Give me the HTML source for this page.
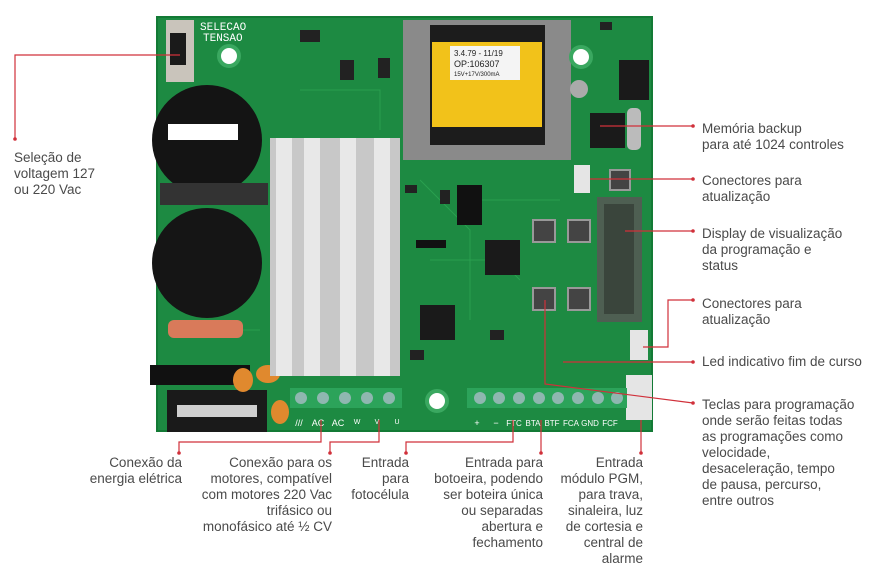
<!DOCTYPE html>
<html><head><meta charset="utf-8"><style>
html,body{margin:0;padding:0;background:#fff;}
body{width:874px;height:579px;position:relative;overflow:hidden;font-family:"Liberation Sans",sans-serif;color:#4a4a4a;}
.t{position:absolute;font-size:13.5px;line-height:16px;white-space:nowrap;}
.r{text-align:right;}
</style></head><body>
<svg width="874" height="579" style="position:absolute;left:0;top:0">
<rect x="157" y="17" width="495" height="414" fill="#1d8a42"/>
<rect x="157" y="17" width="495" height="414" fill="none" stroke="#137a35" stroke-width="2"/>
<g stroke="#2fa855" stroke-width="1" fill="none" opacity=".7">
<path d="M420 180 L470 230 L470 320 M300 90 L380 90 L380 130 M190 330 L260 330 M480 200 L560 200 M430 260 L500 260 L520 280"/>
</g>
<g fill="#222"><rect x="300" y="30" width="20" height="12"/><rect x="340" y="60" width="14" height="20"/><rect x="378" y="58" width="12" height="20"/><rect x="405" y="185" width="12" height="8"/><rect x="440" y="190" width="10" height="14"/><rect x="600" y="22" width="12" height="8"/><rect x="410" y="350" width="14" height="10"/><rect x="490" y="330" width="14" height="10"/></g>
<rect x="166" y="20" width="28" height="62" fill="#c9c4bb"/>
<rect x="170" y="33" width="16" height="32" fill="#1a1a1a"/>
<text x="200" y="30" font-size="11" fill="#fff" font-family="Liberation Mono">SELECAO</text>
<text x="203" y="41" font-size="11" fill="#fff" font-family="Liberation Mono">TENSAO</text>
<circle cx="229" cy="56" r="10" fill="#fff" stroke="#3aa860" stroke-width="4"/>
<circle cx="207" cy="140" r="55" fill="#141414"/>
<rect x="168" y="124" width="70" height="16" fill="#fff"/>
<circle cx="207" cy="263" r="55" fill="#151515"/>
<rect x="160" y="183" width="108" height="22" fill="#333"/>
<rect x="168" y="320" width="75" height="18" rx="6" fill="#d97a5a"/>
<rect x="150" y="365" width="100" height="20" fill="#111"/>
<rect x="167" y="390" width="100" height="42" fill="#1a1a1a"/>
<rect x="177" y="405" width="80" height="12" fill="#cfcfcf"/>
<ellipse cx="243" cy="380" rx="10" ry="12" fill="#e0892e"/>
<ellipse cx="268" cy="374" rx="12" ry="9" fill="#e0892e"/>
<ellipse cx="280" cy="412" rx="9" ry="12" fill="#e0892e"/>
<rect x="270" y="138" width="130" height="238" fill="#c8c8c8"/>
<g fill="#e8e8e8"><rect x="276" y="138" width="16" height="238"/><rect x="304" y="138" width="16" height="238"/><rect x="340" y="138" width="16" height="238"/><rect x="374" y="138" width="16" height="238"/></g>
<rect x="403" y="20" width="168" height="140" fill="#8a8a8a"/>
<rect x="430" y="25" width="115" height="120" fill="#1c1c1c"/>
<rect x="432" y="42" width="110" height="85" fill="#f2c21a"/>
<rect x="450" y="46" width="70" height="34" fill="#f4f4f4"/>
<text x="454" y="56" font-size="8" fill="#222">3.4.79 - 11/19</text>
<text x="454" y="67" font-size="9" fill="#222">OP:106307</text>
<text x="454" y="76" font-size="6" fill="#222">15V+17V/300mA</text>
<circle cx="581" cy="57" r="10" fill="#fff" stroke="#3aa860" stroke-width="4"/>
<circle cx="579" cy="89" r="9" fill="#aaa"/>
<rect x="590" y="113" width="35" height="35" fill="#1a1a1a"/>
<rect x="627" y="108" width="14" height="42" rx="5" fill="#bbb"/>
<rect x="619" y="60" width="30" height="40" fill="#1a1a1a"/>
<rect x="485" y="240" width="35" height="35" fill="#1a1a1a"/>
<rect x="420" y="305" width="35" height="35" fill="#1a1a1a"/>
<rect x="457" y="185" width="25" height="40" fill="#111"/>
<g fill="#444" stroke="#999" stroke-width="2"><rect x="533" y="220" width="22" height="22"/><rect x="568" y="220" width="22" height="22"/><rect x="533" y="288" width="22" height="22"/><rect x="568" y="288" width="22" height="22"/><rect x="610" y="170" width="20" height="20"/></g>
<rect x="597" y="197" width="45" height="125" fill="#4e5f52"/>
<rect x="604" y="204" width="30" height="110" fill="#3a453c"/>
<rect x="574" y="165" width="16" height="28" fill="#e5e5e5"/>
<rect x="630" y="330" width="18" height="30" fill="#e5e5e5"/>
<rect x="626" y="375" width="26" height="45" fill="#e5e5e5"/>
<rect x="416" y="240" width="30" height="8" fill="#111"/>
<circle cx="437" cy="401" r="10" fill="#fff" stroke="#3aa860" stroke-width="4"/>
<rect x="290" y="388" width="112" height="20" fill="#2ca35a"/>
<g fill="#8fb7b0"><circle cx="301" cy="398" r="6"/><circle cx="323" cy="398" r="6"/><circle cx="345" cy="398" r="6"/><circle cx="367" cy="398" r="6"/><circle cx="389" cy="398" r="6"/></g>
<rect x="467" y="388" width="160" height="20" fill="#2ca35a"/>
<g fill="#8fb7b0"><circle cx="480" cy="398" r="6"/><circle cx="499" cy="398" r="6"/><circle cx="519" cy="398" r="6"/><circle cx="539" cy="398" r="6"/><circle cx="558" cy="398" r="6"/><circle cx="578" cy="398" r="6"/><circle cx="598" cy="398" r="6"/><circle cx="617" cy="398" r="6"/></g>
<g font-size="9" fill="#fff" font-family="Liberation Sans" text-anchor="middle">
<text x="299" y="426">///</text><text x="318" y="426">AC</text><text x="338" y="426">AC</text><text x="357" y="424" font-size="7">W</text><text x="377" y="424" font-size="7">V</text><text x="397" y="424" font-size="7">U</text>
<text x="477" y="426">+</text><text x="496" y="426">−</text><text x="514" y="426" font-size="8">FTC</text><text x="533" y="426" font-size="8">BTA</text><text x="552" y="426" font-size="8">BTF</text><text x="571" y="426" font-size="8">FCA</text><text x="590" y="426" font-size="8">GND</text><text x="610" y="426" font-size="8">FCF</text>
</g>
<g stroke="#d0303a" stroke-width="1.2" fill="none">
<polyline points="180,55 15,55 15,139"/>
<polyline points="600,126 693,126"/>
<polyline points="590,179 693,179"/>
<polyline points="625,231 693,231"/>
<polyline points="643,347 668,347 668,300 693,300"/>
<polyline points="563,362 693,362"/>
<polyline points="545,300 545,384 693,403"/>
<polyline points="321,420 321,442 179,442 179,453"/>
<polyline points="379,420 379,442 330,442 330,453"/>
<polyline points="513,420 513,442 406,442 406,453"/>
<polyline points="541,420 541,453"/>
<polyline points="641,420 641,453"/>
</g>
<g fill="#d0303a">
<circle cx="15" cy="139" r="1.8"/><circle cx="693" cy="126" r="1.8"/><circle cx="693" cy="179" r="1.8"/><circle cx="693" cy="231" r="1.8"/><circle cx="693" cy="300" r="1.8"/><circle cx="693" cy="362" r="1.8"/><circle cx="693" cy="403" r="1.8"/>
<circle cx="179" cy="453" r="1.8"/><circle cx="330" cy="453" r="1.8"/><circle cx="406" cy="453" r="1.8"/><circle cx="541" cy="453" r="1.8"/><circle cx="641" cy="453" r="1.8"/>
</g>
</svg>
<div class="t" style="left:14px;top:150px">Seleção de<br>voltagem 127<br>ou 220 Vac</div>
<div class="t" style="left:702px;top:121px">Memória backup<br>para até 1024 controles</div>
<div class="t" style="left:702px;top:173px">Conectores para<br>atualização</div>
<div class="t" style="left:702px;top:226px">Display de visualização<br>da programação e<br>status</div>
<div class="t" style="left:702px;top:296px">Conectores para<br>atualização</div>
<div class="t" style="left:702px;top:354px">Led indicativo fim de curso</div>
<div class="t" style="left:702px;top:397px">Teclas para programação<br>onde serão feitas todas<br>as programações como<br>velocidade,<br>desaceleração, tempo<br>de pausa, percurso,<br>entre outros</div>
<div class="t r" style="right:692px;top:455px">Conexão da<br>energia elétrica</div>
<div class="t r" style="right:542px;top:455px">Conexão para os<br>motores, compatível<br>com motores 220 Vac<br>trifásico ou<br>monofásico até ½ CV</div>
<div class="t r" style="right:465px;top:455px">Entrada<br>para<br>fotocélula</div>
<div class="t r" style="right:331px;top:455px">Entrada para<br>botoeira, podendo<br>ser boteira única<br>ou separadas<br>abertura e<br>fechamento</div>
<div class="t r" style="right:231px;top:455px">Entrada<br>módulo PGM,<br>para trava,<br>sinaleira, luz<br>de cortesia e<br>central de<br>alarme</div>
</body></html>
